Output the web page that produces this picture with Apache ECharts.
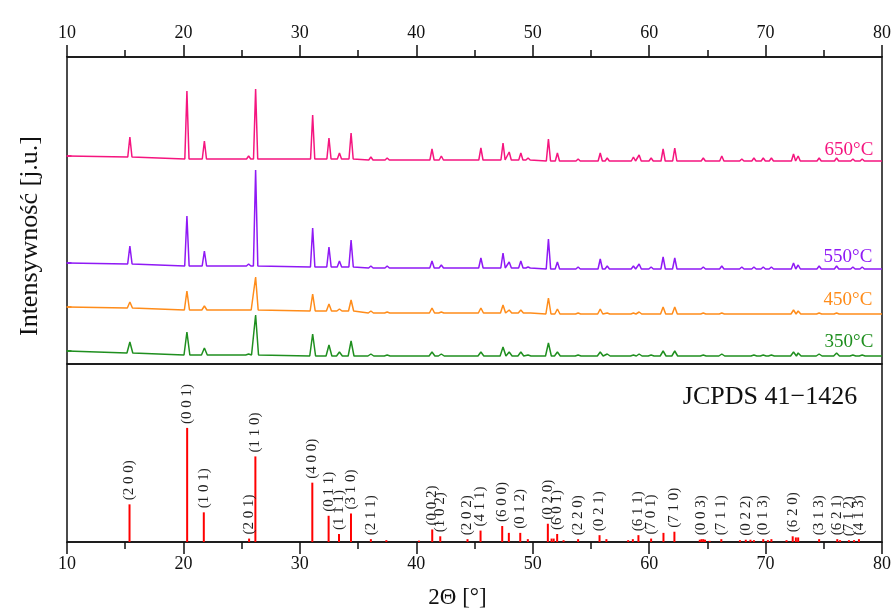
<!DOCTYPE html>
<html><head><meta charset="utf-8">
<script src="https://cdn.jsdelivr.net/npm/echarts@6/dist/echarts.min.js"></script>
<style>html,body{margin:0;padding:0;background:#fff}#c{width:896px;height:610px}</style>
</head><body><div id="c"></div>
<script>
// ---- x-axis ticks (2θ, degrees)
const xTicks = [10, 20, 30, 40, 50, 60, 70, 80];

// ---- measured XRD patterns: peak positions shared, tops / local baselines per temperature (a.u., stacked)
const peakPos = [15.4, 20.3, 21.8, 25.6, 26.2, 31.1, 32.5, 33.4, 34.4, 36.1, 37.5, 41.35, 42.15, 45.55, 47.45, 47.98, 48.98, 49.6, 51.35, 52.12, 53.9, 55.8, 56.4, 58.65, 59.14, 60.17, 61.2, 62.2, 64.65, 66.24, 67.96, 69.0, 69.8, 70.5, 72.4, 72.8, 74.6, 76.1, 77.5, 78.3];

const top650  = [227,273,223,208,275,249,226,211,231,207,206,215,208,216,221,212,211,206,225,211,205,211,206,207,209,206,215,216,206,208,205,206,206,206,210,208,206,206,205,205];
const base650 = [207,205,205,205,205,205,205,205,205,204,204,204,204,204,204,204,204,204,203,203,203,203,203,203,203,203,203,203,203,203,203,203,203,203,203,203,203,203,203,203];
const edge650 = [208, 203];

const top550  = [118,148,113,100,194,136,117,103,124,98,98,103,99,106,111,102,103,97,125,102,97,105,98,98,100,97,107,106,97,98,97,97,97,97,101,99,98,98,97,97];
const base550 = [100,98,98,98,98,97,97,97,97,96,96,96,96,96,96,96,96,96,95,95,95,95,95,95,95,95,95,95,95,95,95,95,95,95,95,95,95,95,95,95];
const edge550 = [101, 95];

const top450  = [62,73,58,54,87,70,60,55,64,53,52,56,52,56,59,54,54,51,66,55,51,55,51,51,52,50,57,57,51,51,50,50,50,50,54,53,51,51,50,50];
const base450 = [56,54,54,54,54,53,53,53,53,51,51,51,51,51,51,51,51,51,50,50,50,50,50,50,50,50,50,50,50,50,50,50,50,50,50,50,50,50,50,50];
const edge450 = [57, 50];

const top350  = [22,32,16,10,49,30,19,12,23,10,9,12,10,12,17,12,12,9,21,12,9,12,10,9,10,9,13,13,9,10,8,9,9,9,12,11,10,11,9,9];
const base350 = [11,9,9,9,9,8,8,8,8,8,8,8,8,8,8,8,8,8,8,8,8,8,8,8,8,8,8,8,8,8,8,8,8,8,8,8,8,8,8,8];
const edge350 = [13, 8];

const tempLabels = ['650\u00B0C', '550\u00B0C', '450\u00B0C', '350\u00B0C'];

// ---- JCPDS 41-1426 reference lines
const stickPos = [15.37,20.32,21.75,25.64,26.18,31.07,32.47,33.36,34.39,36.1,37.43,40.23,41.37,42.06,44.4,45.52,47.38,47.95,48.93,49.58,51.3,51.62,51.8,52.1,52.65,53.9,55.74,56.33,58.2,58.6,59.08,60.17,61.23,62.17,64.35,64.5,64.65,64.8,65.2,66.2,67.8,68.3,68.7,69.0,69.8,70.2,70.5,71.8,72.33,72.6,72.8,74.6,76.16,76.4,77.16,77.6,78.02];
const stickInt = [33,100,26,3,75,52,23,7,25,2.5,1.6,1.2,11,5,2.5,10,14,8,8,2.5,16,3,3,7,1.6,2.5,6,2.5,1.6,2.5,6,3,8,9,2,2.5,2.5,2,1,2.5,1.6,2,2,1.6,2.5,1.6,2.5,1.6,5,4,4,2.5,2.5,1.6,1.6,1.6,2.5];
const stickHkl = ['(2 0 0)','(0 0 1)','(1 0 1)','(2 0 1)','(1 1 0)','(4 0 0)','(0 1 1)','(1 1 1)','(3 1 0)','(2 1 1)','','','(0 0 2)','(1 0 2)','(2 0 2)','(4 1 1)','(6 0 0)','','(0 1 2)','','(0 2 0)','','','(6 0 1)','','(2 2 0)','(0 2 1)','','','','(6 1 1)','(7 0 1)','','(7 1 0)','','(0 0 3)','','','','(7 1 1)','','(0 2 2)','','','(0 1 3)','','','','(6 2 0)','','','(3 1 3)','(6 2 1)','','(7 1 2)','','(4 1 3)'];

const colors = ['#f5157f', '#8f19f5', '#ff8c1a', '#1f8f1f'];
const FONT = '"Liberation Serif", "Times New Roman", serif';

function profile(tops, bases, edges, hw) {
  const pts = [[xTicks[0], edges[0]]];
  peakPos.forEach((p, i) => { pts.push([p - hw, bases[i]], [p, tops[i]], [p + hw, bases[i]]); });
  pts.push([xTicks[xTicks.length - 1], edges[1]]);
  return pts;
}
const patterns = [
  profile(top650, base650, edge650, 0.18),
  profile(top550, base550, edge550, 0.19),
  profile(top450, base450, edge450, 0.22),
  profile(top350, base350, edge350, 0.25)
];
const edges = [edge650, edge550, edge450, edge350];

const chart = echarts.init(document.getElementById('c'), null, {renderer: 'canvas'});
const axisCommon = {
  type: 'value', min: xTicks[0], max: xTicks[xTicks.length - 1], interval: xTicks[1] - xTicks[0],
  axisLine: {show: true, onZero: false, lineStyle: {color: '#111', width: 1.5}},
  axisTick: {show: true, length: 12, lineStyle: {color: '#111', width: 1.5}},
  minorTick: {show: true, splitNumber: 2, length: 7, lineStyle: {color: '#111', width: 1.5}},
  splitLine: {show: false},
  axisLabel: {color: '#111', fontFamily: FONT, fontSize: 18}
};

const lineSeries = patterns.map((d, i) => ({
  type: 'line', xAxisIndex: 0, yAxisIndex: 0, data: d, showSymbol: false, silent: true,
  lineStyle: {color: colors[i], width: 1.5}, itemStyle: {color: colors[i]}
}));
const tickSeries = {
  type: 'scatter', xAxisIndex: 0, yAxisIndex: 0, symbol: 'rect', symbolSize: [5, 2], symbolOffset: [2, 0],
  data: edges.map((e, i) => ({value: [xTicks[0], e[0]], itemStyle: {color: colors[i]}})), silent: true
};

chart.setOption({
  animation: false,
  backgroundColor: '#fff',
  grid: [
    {left: 67, right: 14, top: 57, height: 307, show: true, borderColor: '#111', borderWidth: 1.5},
    {left: 67, right: 14, top: 364, height: 190, show: true, borderColor: '#111', borderWidth: 1.5}
  ],
  xAxis: [
    Object.assign({}, axisCommon, {gridIndex: 0, position: 'top', axisLabel: Object.assign({}, axisCommon.axisLabel, {margin: 15})}),
    Object.assign({}, axisCommon, {gridIndex: 1, position: 'bottom', axisLabel: Object.assign({}, axisCommon.axisLabel, {margin: 13}),
      name: '2\u0398 [\u00B0]', nameLocation: 'middle', nameGap: 44,
      nameTextStyle: {fontFamily: FONT, fontSize: 23, color: '#111', padding: [0, 34, 0, 0]}})
  ],
  yAxis: [
    {type: 'value', gridIndex: 0, min: 0, max: 307, axisLine: {show: false}, axisTick: {show: false}, axisLabel: {show: false}, splitLine: {show: false}},
    {type: 'value', gridIndex: 1, min: 0, max: 156, axisLine: {show: false}, axisTick: {show: false}, axisLabel: {show: false}, splitLine: {show: false}}
  ],
  series: lineSeries.concat([tickSeries, {
    type: 'bar', xAxisIndex: 1, yAxisIndex: 1, barWidth: 2, silent: true,
    itemStyle: {color: '#ff0000'},
    data: stickPos.map((x, i) => ({value: [x, stickInt[i]], label: {show: stickHkl[i] !== ''}})),
    label: {position: 'top', rotate: 90, align: 'left', verticalAlign: 'middle', distance: 4,
      fontFamily: FONT, fontSize: 15, color: '#222',
      formatter: p => stickHkl[p.dataIndex]}
  }]),
  graphic: [
    {type: 'text', x: 30, y: 236, rotation: Math.PI / 2, style: {text: 'Intensywno\u015B\u0107 [j.u.]', align: 'center', verticalAlign: 'middle', font: '26px ' + FONT, fill: '#111'}},
    {type: 'text', x: 770, y: 397, style: {text: 'JCPDS 41\u22121426', align: 'center', verticalAlign: 'middle', font: '26px ' + FONT, fill: '#111'}},
    {type: 'text', x: 849, y: 150, style: {text: tempLabels[0], align: 'center', verticalAlign: 'middle', font: '19px ' + FONT, fill: colors[0]}},
    {type: 'text', x: 848, y: 257, style: {text: tempLabels[1], align: 'center', verticalAlign: 'middle', font: '19px ' + FONT, fill: colors[1]}},
    {type: 'text', x: 848, y: 300, style: {text: tempLabels[2], align: 'center', verticalAlign: 'middle', font: '19px ' + FONT, fill: colors[2]}},
    {type: 'text', x: 849, y: 342, style: {text: tempLabels[3], align: 'center', verticalAlign: 'middle', font: '19px ' + FONT, fill: colors[3]}}
  ]
});
</script></body></html>
